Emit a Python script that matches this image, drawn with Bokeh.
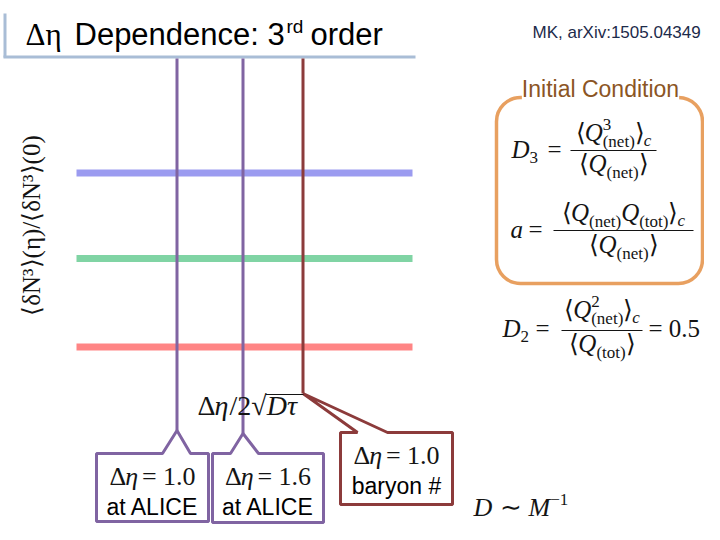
import math
from bokeh.plotting import figure
from bokeh.models import Range1d, Label, BoxAnnotation, ColumnDataSource
from bokeh.embed import file_html
from bokeh.resources import INLINE

# ---------------- data ----------------
band_names = ["upper", "middle", "lower"]
band_levels = [172.5, 258.0, 346.5]
band_colors = ["#9b9bf0", "#80d4a4", "#ff8585"]
band_start = [76, 76, 76]
band_end = [412, 412, 412]

cut_values = ["1.0", "1.6", "1.0"]
cut_notes = ["at ALICE", "at ALICE", "baryon #"]
cut_positions = [176.5, 242.5, 302.5]
cut_tips = [430, 433, 393]
cut_colors = ["#8064a2", "#8064a2", "#8c3b3b"]
box_left = [96, 212, 340]
box_right = [208, 323, 452]
box_top = [453, 453, 432]
box_bottom = [521, 522, 504]
ptr_a = [162, 230, 357]
ptr_b = [190, 258, 387]

SERIF = "Liberation Serif"
SANS = "Liberation Sans"
INK = "#141414"
MID = 0.35  # baseline -> em-box middle

p = figure(width=704, height=524, x_range=Range1d(0, 704), y_range=Range1d(524, 0),
           toolbar_location=None, output_backend="svg", min_border=0,
           x_axis_type=None, y_axis_type=None)
p.grid.visible = False
p.outline_line_color = None
p.background_fill_color = "white"
p.border_fill_color = "white"

SW = {'D': 0.722, 'Q': 0.722, 'M': 0.889, 'N': 0.722, '=': 0.564, '(': 0.333, ')': 0.333,
      'n': 0.5, 'e': 0.444, 't': 0.278, 'o': 0.5, 'c': 0.444, 'a': 0.444, '.': 0.25,
      ' ': 0.25, '⟨': 0.36, '⟩': 0.36, '∼': 0.564, '−': 0.564, '/': 0.278, '√': 0.55,
      'Δ': 0.61, 'η': 0.5, 'τ': 0.44, 'δ': 0.5}
SWI = {'D': 0.722, 'Q': 0.722, 'M': 0.833, 'a': 0.5, 'c': 0.444, 'η': 0.64, 'τ': 0.46}


def tw(s, size, style="normal"):
    tab = SWI if style == "italic" else SW
    return sum(tab.get(c, SW.get(c, 0.5)) for c in s) * size


def lab(x, base, text, size, font=SANS, color="black", align="left", style="normal", **kw):
    p.add_layout(Label(x=x, y=base - MID * size, text=text, text_font=font,
                       text_font_size=f"{size}px", text_font_style=style, text_color=color,
                       text_align=align, text_baseline="middle", **kw))


def runs_width(runs):
    w = 0
    for r in runs:
        t, s, st, dy = r[:4]
        adv = r[4] if len(r) > 4 else True
        if adv:
            w += tw(t, s, st)
    return w


def place(x, y, runs, color=INK, font=SERIF):
    for r in runs:
        t, s, st, dy = r[:4]
        adv = r[4] if len(r) > 4 else True
        lab(x, y + dy, t, s, font=font, color=color, style=st)
        if adv:
            x += tw(t, s, st)
    return x


def place_center(cx, y, runs, color=INK):
    place(cx - runs_width(runs) / 2, y, runs, color)


def fraction(x0, x1, ybar, num, den, ynum, yden):
    p.segment(x0=[x0], y0=[ybar], x1=[x1], y1=[ybar], line_color=INK, line_width=1.2)
    cx = (x0 + x1) / 2
    place_center(cx, ynum, num)
    place_center(cx, yden, den)


# ---------------- title ----------------
p.segment(x0=[4.5], y0=[13], x1=[4.5], y1=[57], line_color="#a9bdd6", line_width=3)
p.segment(x0=[3], y0=[56.5], x1=[415], y1=[56.5], line_color="#a9bdd6", line_width=3)
lab(25, 45, "Δη", 31, font=SERIF)
lab(74, 45, "Dependence: 3", 31)
lab(286, 33, "rd", 19)
lab(310, 45, "order", 31)

lab(532, 38, "MK, arXiv:1505.04349", 17, color="#1c2a4a")

# ---------------- y label ----------------
p.add_layout(Label(x=31, y=225, text="⟨δN³⟩(η)/⟨δN³⟩(0)", text_font=SERIF,
                   text_font_size="25px", text_color=INK, angle=math.pi / 2,
                   text_align="center", text_baseline="middle"))

# ---------------- bands ----------------
band_src = ColumnDataSource(dict(name=band_names, y=band_levels, x0=band_start,
                                 x1=band_end, color=band_colors))
p.segment(x0="x0", y0="y", x1="x1", y1="y", line_color="color", line_width=7,
          source=band_src)

# ---------------- cut lines & callouts ----------------
cut_src = ColumnDataSource(dict(x=cut_positions, top=[58] * 3, tip=cut_tips, color=cut_colors))
p.segment(x0="x", y0="top", x1="x", y1="tip", line_color="color", line_width=3, source=cut_src)

xs, ys = [], []
for i in range(3):
    xs.append([box_left[i], ptr_a[i], cut_positions[i], ptr_b[i], box_right[i],
               box_right[i], box_left[i]])
    ys.append([box_top[i], box_top[i], cut_tips[i], box_top[i], box_top[i],
               box_bottom[i], box_bottom[i]])
p.patches(xs=xs, ys=ys, fill_color="white", line_color=cut_colors, line_width=3)

for i in range(3):
    cx = (box_left[i] + box_right[i]) / 2
    y1 = box_top[i] + 32
    y2 = box_top[i] + 62
    place_center(cx, y1, [("Δ", 26, "normal", 0), ("η", 26, "italic", 0),
                          ("= " + cut_values[i], 26, "normal", 0)])
    lab(cx, y2, cut_notes[i], 23, align="center")

# Δη/2√(Dτ)
xe = place(197, 415, [("Δ", 28, "normal", 0)])
xe = place(xe, 415, [("η", 28, "italic", 0)]) - 3
xe = place(xe, 415, [("/2", 28, "normal", 0)])
xs0 = place(xe, 415, [("√", 28, "normal", 0)])
xend = place(xs0, 415, [("D", 28, "italic", 0), ("τ", 28, "italic", 0)])
p.segment(x0=[xs0 - 1], y0=[394], x1=[303], y1=[394], line_color=INK, line_width=1.2)

# ---------------- initial condition box ----------------
p.add_layout(BoxAnnotation(left=496, right=702, top=97, bottom=283, border_radius=24,
                           fill_alpha=0, line_alpha=1.0, line_color="#e8a060",
                           line_width=3.5))
lab(600, 97, "Initial Condition", 23, color="#8b5524", align="center",
    background_fill_color="white")

S, s = 25, 17
# D3
place(511, 158, [("D", S, "italic", 0), ("3", s, "normal", 5)])
place(547, 158, [("=", S, "normal", 0)])
fraction(570, 656, 150,
         [("⟨", S, "normal", 0), ("Q", S, "italic", 0), ("3", s, "normal", -11, False),
          ("(net)", s, "normal", 6), ("⟩", S, "normal", 0), ("c", s, "italic", 5)],
         [("⟨", S, "normal", 0), ("Q", S, "italic", 0), ("(net)", s, "normal", 6),
          ("⟩", S, "normal", 0)], 141, 172)
# a
place(510, 238, [("a", S, "italic", 0)])
place(528, 238, [("=", S, "normal", 0)])
fraction(553, 693, 230,
         [("⟨", S, "normal", 0), ("Q", S, "italic", 0), ("(net)", s, "normal", 6),
          ("Q", S, "italic", 0), ("(tot)", s, "normal", 6), ("⟩", S, "normal", 0),
          ("c", s, "italic", 5)],
         [("⟨", S, "normal", 0), ("Q", S, "italic", 0), ("(net)", s, "normal", 6),
          ("⟩", S, "normal", 0)], 221, 253)
# D2
place(502, 337, [("D", S, "italic", 0), ("2", s, "normal", 5)])
place(535, 337, [("=", S, "normal", 0)])
fraction(561, 642, 330,
         [("⟨", S, "normal", 0), ("Q", S, "italic", 0), ("2", s, "normal", -11, False),
          ("(net)", s, "normal", 6), ("⟩", S, "normal", 0), ("c", s, "italic", 5)],
         [("⟨", S, "normal", 0), ("Q", S, "italic", 0), ("(tot)", s, "normal", 6),
          ("⟩", S, "normal", 0)], 318, 352)
place(648, 337, [("= 0.5", S, "normal", 0)])

# D ~ M^-1
place(473, 516, [("D", 26, "italic", 0)])
place(499, 516, [("∼", 26, "normal", 0)])
place(528, 516, [("M", 26, "italic", 0), ("−1", 17, "normal", -11)])

open("out.html", "w").write(file_html(p, INLINE))
